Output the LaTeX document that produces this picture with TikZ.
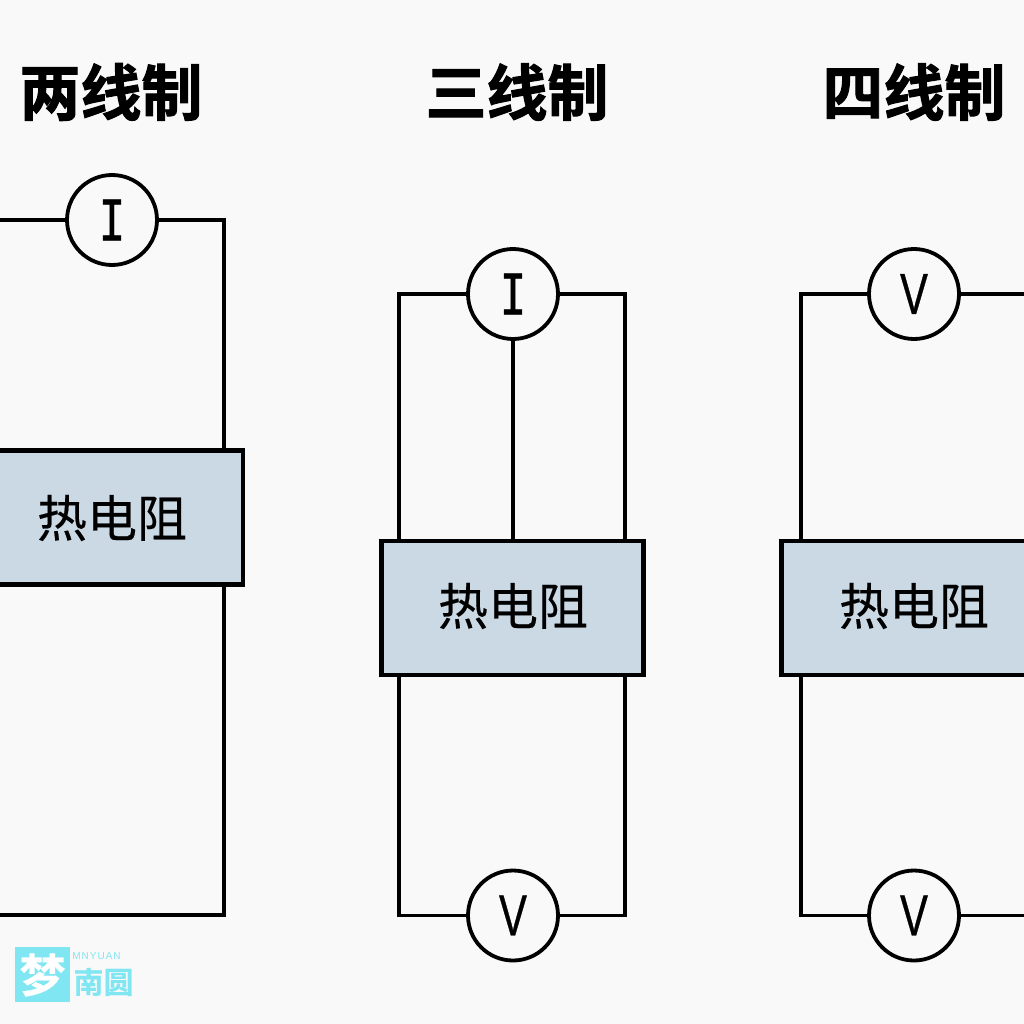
\documentclass[tikz,border=0pt]{standalone}
\usepackage{fontspec}
\setmainfont{Liberation Sans}
\newfontfamily\cjk[FakeBold=0.35]{Noto Sans CJK SC}
\newfontfamily\cjkb[FakeBold=1.6]{Noto Sans CJK SC Bold}
\newfontfamily\wmb[FakeBold=0.4]{Noto Sans CJK SC Bold}
\newfontfamily\iserif[FakeBold=0.8]{Liberation Mono}
\newfontfamily\vsans[FakeBold=0.7]{Liberation Sans}
\newfontfamily\wmf[LetterSpace=10]{Liberation Sans}
\definecolor{bgc}{HTML}{F9F9F9}
\definecolor{boxc}{HTML}{CBD9E5}
\definecolor{wm}{HTML}{7FE6F2}
\tikzset{
  wire/.style={draw=black,line width=3.6pt,line join=miter},
  meter/.style={circle,draw=black,line width=3.8pt,fill=bgc,minimum size=90pt,inner sep=0pt},
  rtd/.style={rectangle,draw=black,line width=4.2pt,fill=boxc,minimum width=262pt,minimum height=134pt,inner sep=0pt},
  heading/.style={inner sep=0pt,font=\cjkb\fontsize{61}{61}\selectfont},
  rtdtext/.style={inner sep=0pt,font=\cjk\fontsize{50}{50}\selectfont},
  letter/.style={inner sep=0pt},
}
\newcommand{\letI}{\scalebox{0.72}[1]{\iserif\fontsize{62}{62}\selectfont I}}
\newcommand{\letV}{\scalebox{0.72}[1]{\vsans\fontsize{58}{58}\selectfont V}}
\begin{document}
\begin{tikzpicture}[x=1pt,y=-1pt]
\useasboundingbox (0,0) rectangle (1024,1024);
\clip (0,0) rectangle (1024,1024);
\fill[bgc] (0,0) rectangle (1024,1024);
% titles
\node[heading] (t2) at (111,92) {两线制};
\node[heading] (t3) at (517,92) {三线制};
\node[heading] (t4) at (914,92) {四线制};
% two-wire
\coordinate (a1) at (-5,220);
\coordinate (a2) at (224,220);
\coordinate (a3) at (224,915);
\coordinate (a4) at (-5,915);
\node[rtd] (ra) at (112,517.5) {};
\node[meter] (ia) at (112,220) {};
\draw[wire] (a1) -- (ia.west);
\draw[wire] (ia.east) -- (a2) -- (ra.north -| a2);
\draw[wire] (ra.south -| a3) -- (a3) -- (a4);
\node[rtdtext] (la) at (112,518) {热电阻};
\node[letter] (lia) at (112,220) {\letI};
% three-wire
\coordinate (b1) at (399,294);
\coordinate (b2) at (625,294);
\coordinate (b3) at (399,915.5);
\coordinate (b4) at (625,915.5);
\node[rtd] (rb) at (512.5,608) {};
\node[meter] (ib) at (513,294) {};
\node[meter] (vb) at (513,915.5) {};
\draw[wire] (ib.west) -- (b1) -- (rb.north -| b1);
\draw[wire] (ib.east) -- (b2) -- (rb.north -| b2);
\draw[wire] (ib.south) -- (rb.north -| ib.south);
\draw[wire] (rb.south -| b3) -- (b3) -- (vb.west);
\draw[wire] (rb.south -| b4) -- (b4) -- (vb.east);
\node[rtdtext] (lb) at (513,606) {热电阻};
\node[letter] (lib) at (513,294) {\letI};
\node[letter] (lvb) at (513,915.5) {\letV};
% four-wire
\coordinate (c1) at (801,294);
\coordinate (c2) at (1030,294);
\coordinate (c3) at (801,915.5);
\coordinate (c4) at (1030,915.5);
\node[rtd] (rc) at (912.5,608) {};
\node[meter] (vc) at (914,294) {};
\node[meter] (vd) at (914,915.5) {};
\draw[wire] (vc.west) -- (c1) -- (rc.north -| c1);
\draw[wire] (vc.east) -- (c2);
\draw[wire] (rc.south -| c3) -- (c3) -- (vd.west);
\draw[wire] (vd.east) -- (c4);
\node[rtdtext] (lc) at (914,606) {热电阻};
\node[letter] (lvc) at (914,294) {\letV};
\node[letter] (lvd) at (914,915.5) {\letV};
% watermark
\fill[wm] (15,947) rectangle (70,1002);
\node[inner sep=0pt,text=white,font=\wmb\fontsize{46}{46}\selectfont] (w1) at (42.5,975) {梦};
\node[inner sep=0pt,text=wm,font=\wmb\fontsize{30}{30}\selectfont] (w2) at (103.5,982) {南圆};
\node[inner sep=0pt,text=wm,font=\wmf\fontsize{10}{10}\selectfont] (w3) at (96.5,956) {MNYUAN};
\end{tikzpicture}
\end{document}
